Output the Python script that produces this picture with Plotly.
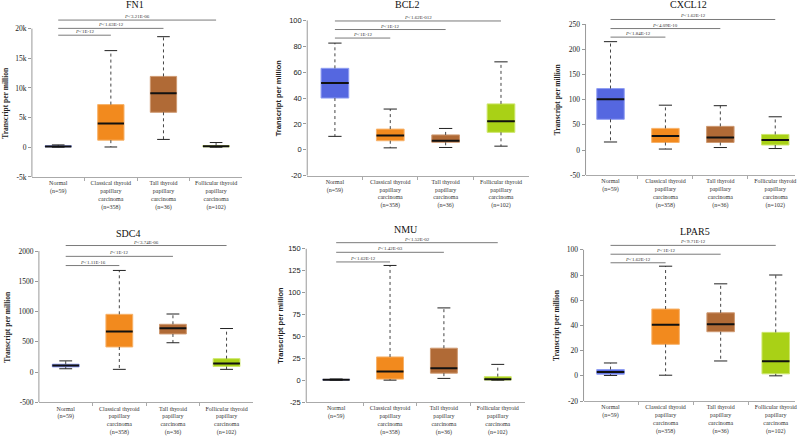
import plotly.graph_objects as go

W, H = 800, 436

CATEGORIES = [
    "Normal<br>(n=59)",
    "Classical thyroid<br>papillary<br>carcinoma<br>(n=358)",
    "Tall thyroid<br>papillary<br>carcinoma<br>(n=36)",
    "Follicular thyroid<br>papillary<br>carcinoma<br>(n=102)",
]
FILL = ["#5567e0", "#f28a1e", "#b06a36", "#a9d116"]
EDGE = ["#8f9df2", "#f7b26a", "#cf9a72", "#cde66c"]

GENES = ["FN1", "BCL2", "CXCL12", "SDC4", "NMU", "LPAR5"]

# box statistics per gene: lower whisker, q1, median, q3, upper whisker (per category)
FN1_LOW = [20, 50, 1330, 10]
FN1_Q1 = [80, 1200, 5900, 80]
FN1_MED = [150, 4000, 9100, 180]
FN1_Q3 = [250, 7200, 11950, 300]
FN1_UP = [400, 16300, 18650, 800]

BCL2_LOW = [10.4, 1.5, 1.8, 2.8]
BCL2_Q1 = [40, 7, 5.8, 13.5]
BCL2_MED = [51.7, 11, 7, 22]
BCL2_Q3 = [63, 16, 11.5, 35.5]
BCL2_UP = [82.5, 31.5, 16.5, 68]

CXCL12_LOW = [16, 2, 5, 3]
CXCL12_Q1 = [61, 15, 15, 10]
CXCL12_MED = [101, 28, 25, 20]
CXCL12_Q3 = [122, 43, 47, 31]
CXCL12_UP = [215, 89, 88, 66]

SDC4_LOW = [55, 45, 485, 45]
SDC4_Q1 = [85, 415, 630, 92]
SDC4_MED = [108, 670, 725, 140]
SDC4_Q3 = [130, 955, 790, 222]
SDC4_UP = [185, 1680, 960, 720]

NMU_LOW = [0, 0, 2, 0]
NMU_Q1 = [0.2, 1.2, 8, 0.2]
NMU_MED = [0.5, 10, 13.5, 1]
NMU_Q3 = [0.8, 26.5, 36.5, 4]
NMU_UP = [1.3, 131, 82.5, 18]

LPAR5_LOW = [0.3, 0.5, 11.8, 0]
LPAR5_Q1 = [1.3, 25, 35, 1.6]
LPAR5_MED = [3, 40.5, 41, 11.5]
LPAR5_Q3 = [5, 53, 50, 34.5]
LPAR5_UP = [10.2, 87, 73, 80]

# p-values (Normal vs. Classical / Tall / Follicular) and bracket heights (data units)
FN1_P = ["1E-12", "1.63E-12", "3.21E-06"]
FN1_BRACKET = [18900, 20050, 21450]
BCL2_P = ["1E-12", "1E-12", "1.62E-012"]
BCL2_BRACKET = [86.4, 93, 99.6]
CXCL12_P = ["1.84E-12", "4.09E-10", "1.62E-12"]
CXCL12_BRACKET = [224, 241, 259]
SDC4_P = ["1.11E-16", "1E-12", "3.74E-06"]
SDC4_BRACKET = [1761, 1913, 2092]
NMU_P = ["1.62E-12", "1.42E-03", "1.52E-02"]
NMU_BRACKET = [135, 146, 157]
LPAR5_P = ["1.62E-12", "1E-12", "9.71E-12"]
LPAR5_BRACKET = [89.7, 96.5, 103.5]

# y tick values and labels
FN1_TICKS = [-5000, 0, 5000, 10000, 15000, 20000]
FN1_TICKTEXT = ["-5k", "0", "5k", "10k", "15k", "20k"]
BCL2_TICKS = [-20, 0, 20, 40, 60, 80, 100]
CXCL12_TICKS = [-50, 0, 50, 100, 150, 200, 250]
SDC4_TICKS = [-500, 0, 500, 1000, 1500, 2000]
NMU_TICKS = [-25, 0, 25, 50, 75, 100, 125, 150]
LPAR5_TICKS = [-20, 0, 20, 40, 60, 80, 100]

DATA = {
    "FN1": (FN1_LOW, FN1_Q1, FN1_MED, FN1_Q3, FN1_UP, FN1_P, FN1_BRACKET, FN1_TICKS, FN1_TICKTEXT),
    "BCL2": (BCL2_LOW, BCL2_Q1, BCL2_MED, BCL2_Q3, BCL2_UP, BCL2_P, BCL2_BRACKET, BCL2_TICKS, [str(v) for v in BCL2_TICKS]),
    "CXCL12": (CXCL12_LOW, CXCL12_Q1, CXCL12_MED, CXCL12_Q3, CXCL12_UP, CXCL12_P, CXCL12_BRACKET, CXCL12_TICKS, [str(v) for v in CXCL12_TICKS]),
    "SDC4": (SDC4_LOW, SDC4_Q1, SDC4_MED, SDC4_Q3, SDC4_UP, SDC4_P, SDC4_BRACKET, SDC4_TICKS, [str(v) for v in SDC4_TICKS]),
    "NMU": (NMU_LOW, NMU_Q1, NMU_MED, NMU_Q3, NMU_UP, NMU_P, NMU_BRACKET, NMU_TICKS, [str(v) for v in NMU_TICKS]),
    "LPAR5": (LPAR5_LOW, LPAR5_Q1, LPAR5_MED, LPAR5_Q3, LPAR5_UP, LPAR5_P, LPAR5_BRACKET, LPAR5_TICKS, [str(v) for v in LPAR5_TICKS]),
}

SERIF = "Liberation Serif, Times New Roman, serif"
SANS = "Liberation Sans, Arial, sans-serif"

# layout geometry (pixels): x left, x right, x range, y-pixel of bottom, y-pixel of top tick,
# top of y range, title x/y, y-title x, tick font
GEOM = {
    "FN1":    dict(x0=32, x1=243, xr=[-0.5, 3.5], yb=179, yt=29, ytop=22600, tx=135, ty=5, ytx=6, font=SERIF),
    "BCL2":   dict(x0=308, x1=530, xr=[-0.5, 3.5], yb=177.7, yt=20.7, ytop=104, tx=408, ty=5, ytx=279, font=SANS),
    "CXCL12": dict(x0=587, x1=797, xr=[-0.455, 3.36], yb=177.3, yt=24.3, ytop=266, tx=690, ty=5, ytx=559, font=SERIF),
    "SDC4":   dict(x0=39, x1=254, xr=[-0.5, 3.5], yb=407, yt=254, ytop=2160, tx=128, ty=236, ytx=8, font=SERIF),
    "NMU":    dict(x0=307, x1=526, xr=[-0.556, 3.5], yb=406.7, yt=251.7, ytop=161, tx=407, ty=232, ytx=281, font=SANS),
    "LPAR5":  dict(x0=585, x1=797, xr=[-0.49, 3.35], yb=405.7, yt=252.7, ytop=107, tx=697, ty=234, ytx=558, font=SERIF),
}

fig = go.Figure()
annotations = []
shapes = []
layout = {}

for k, gene in enumerate(GENES, start=1):
    low, q1, med, q3, up, pv, br, ticks, ticktext = DATA[gene]
    g = GEOM[gene]
    xa = "x" if k == 1 else f"x{k}"
    ya = "y" if k == 1 else f"y{k}"
    ymin = ticks[0]
    ymaxtick = ticks[-1]
    scale = (g["yb"] - g["yt"]) / (ymaxtick - ymin)
    ytop_px = g["yb"] - (g["ytop"] - ymin) * scale
    xs = list(range(len(CATEGORIES)))

    # whiskers (dotted)
    wx, wy = [], []
    for i in xs:
        wx += [i, i, None, i, i, None]
        wy += [q3[i], up[i], None, q1[i], low[i], None]
    fig.add_trace(go.Scatter(x=wx, y=wy, mode="lines", xaxis=xa, yaxis=ya,
                             line=dict(color="#444", width=1, dash="dot"), hoverinfo="skip"))
    # caps
    cx, cy = [], []
    for i in xs:
        cx += [i - 0.12, i + 0.12, None, i - 0.12, i + 0.12, None]
        cy += [up[i], up[i], None, low[i], low[i], None]
    fig.add_trace(go.Scatter(x=cx, y=cy, mode="lines", xaxis=xa, yaxis=ya,
                             line=dict(color="#222", width=1), hoverinfo="skip"))
    # boxes
    fig.add_trace(go.Bar(x=xs, base=q1, y=[q3[i] - q1[i] for i in xs], width=0.5,
                         xaxis=xa, yaxis=ya,
                         marker=dict(color=FILL, line=dict(color=EDGE, width=1))))
    # medians
    mx, my = [], []
    for i in xs:
        mx += [i - 0.25, i + 0.25, None]
        my += [med[i], med[i], None]
    fig.add_trace(go.Scatter(x=mx, y=my, mode="lines", xaxis=xa, yaxis=ya,
                             line=dict(color="#111", width=2), hoverinfo="skip"))
    # significance brackets
    for j, (p, h) in enumerate(zip(pv, br), start=1):
        fig.add_trace(go.Scatter(x=[0, j], y=[h, h], mode="lines", xaxis=xa, yaxis=ya,
                                 line=dict(color="#7a7a7a", width=1), hoverinfo="skip"))
        annotations.append(dict(x=j / 2, y=h, xref=xa, yref=ya, text=f"<i>P</i>&lt;{p}",
                                showarrow=False, yanchor="bottom", yshift=-1,
                                font=dict(family=SERIF, size=5, color="#333")))

    # y axis line drawn from bottom to top tick
    shapes.append(dict(type="line", xref=f"{xa} domain", yref=ya, x0=0, x1=0,
                       y0=ymin, y1=ymaxtick, line=dict(color="#999", width=1)))

    layout["xaxis" if k == 1 else f"xaxis{k}"] = dict(
        domain=[g["x0"] / W, g["x1"] / W], range=g["xr"], anchor=ya,
        tickvals=xs, ticktext=CATEGORIES, ticks="", showline=True, linecolor="#aaa",
        linewidth=1, showgrid=False, zeroline=False,
        tickfont=dict(family=SERIF, size=6, color="#333"),
        minor=dict(tickvals=[0.5, 1.5, 2.5], ticks="outside", ticklen=3, tickcolor="#aaa"),
    )
    layout["yaxis" if k == 1 else f"yaxis{k}"] = dict(
        domain=[1 - g["yb"] / H, 1 - ytop_px / H], range=[ymin, g["ytop"]], anchor=xa,
        tickvals=ticks, ticktext=ticktext, ticks="outside", ticklen=3, tickcolor="#999",
        showline=False, showgrid=False, zeroline=False,
        tickfont=dict(family=g["font"], size=7.5, color="#222"),
    )
    # title
    annotations.append(dict(x=g["tx"] / W, y=1 - g["ty"] / H, xref="paper", yref="paper",
                            text=gene, showarrow=False, xanchor="center", yanchor="middle",
                            font=dict(family=SERIF, size=10, color="#111")))
    # y-axis title
    annotations.append(dict(x=g["ytx"] / W, y=1 - ((g["yb"] + g["yt"]) / 2) / H,
                            xref="paper", yref="paper", text="<b>Transcript per million</b>",
                            textangle=-90, showarrow=False, xanchor="center", yanchor="middle",
                            font=dict(family=g["font"], size=7.5, color="#222")))

fig.update_layout(
    width=W, height=H, margin=dict(l=0, r=0, t=0, b=0),
    paper_bgcolor="white", plot_bgcolor="white", showlegend=False,
    annotations=annotations, shapes=shapes, **layout,
)

fig.write_html("out.html", config={"displayModeBar": False},
               post_script="document.body.style.margin='0';document.body.style.overflow='hidden';")
